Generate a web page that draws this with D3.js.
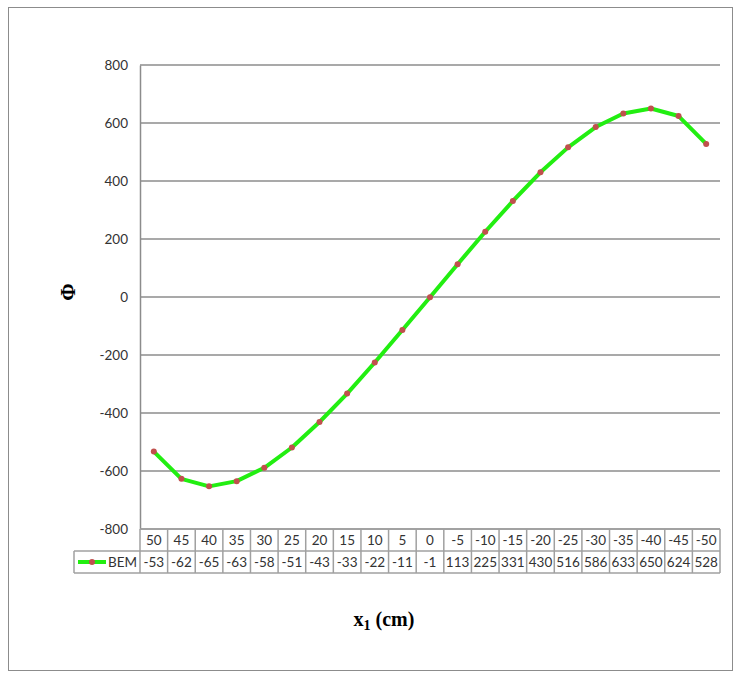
<!DOCTYPE html>
<html><head><meta charset="utf-8">
<script src="https://cdn.jsdelivr.net/npm/d3@7"></script>
<style>body{margin:0;background:#fff}svg{display:block}</style>
</head><body>
<svg id="chart" width="738" height="678"></svg>
<script>
const categories = ["50","45","40","35","30","25","20","15","10","5","0","-5","-10","-15","-20","-25","-30","-35","-40","-45","-50"];
const bemValues = [-533,-627,-653,-635,-589,-519,-431,-333,-226,-114,-1,113,225,331,430,516,586,633,650,624,528];
const tableLabels = ["-53","-62","-65","-63","-58","-51","-43","-33","-22","-11","-1","113","225","331","430","516","586","633","650","624","528"];
const yTicks = [-800,-600,-400,-200,0,200,400,600,800];
const seriesName = "BEM";

(function(){
const svg = d3.select("#chart");
const font = "Lato, 'Noto Sans', sans-serif";
const fs = 13.5;
const gridCol = "#8c8c8c", tableCol = "#a0a0a0";

svg.append("rect").attr("x",8.5).attr("y",7.5).attr("width",724).attr("height",663)
  .attr("fill","#fff").attr("stroke","#8c8c8c").attr("stroke-width",1);

const pLeft = 140, pRight = 720, pTop = 65, pBottom = 529;
const x = d3.scaleBand().domain(categories).range([pLeft,pRight]);
const y = d3.scaleLinear().domain([-800,800]).range([pBottom,pTop]);

svg.append("g").selectAll("line").data(yTicks).join("line")
  .attr("x1",pLeft).attr("x2",pRight).attr("y1",d=>y(d)).attr("y2",d=>y(d))
  .attr("stroke",gridCol).attr("stroke-width",1.5);

const yAxis = d3.axisLeft(y).tickValues(yTicks).tickSize(0).tickPadding(12).tickFormat(d=>String(d));
const gy = svg.append("g").attr("transform",`translate(${pLeft},0)`).call(yAxis);
gy.select(".domain").attr("stroke",gridCol).attr("stroke-width",1.5);
gy.selectAll("text").attr("font-family",font).attr("font-size",fs).attr("fill","#333");

const rowH = 22;
const r1 = pBottom, r2 = pBottom + rowH, r3 = pBottom + 2*rowH;
const tg = svg.append("g");
const hl = (x1,x2,yy)=>tg.append("line").attr("x1",x1).attr("x2",x2).attr("y1",yy).attr("y2",yy).attr("stroke",tableCol).attr("stroke-width",1.5);
hl(pLeft,pRight,r1); hl(74,pRight,r2); hl(74,pRight,r3);
tg.append("line").attr("x1",74).attr("x2",74).attr("y1",r2).attr("y2",r3).attr("stroke",tableCol).attr("stroke-width",1.5);
tg.selectAll("line.v").data(categories).join("line").attr("class","v")
  .attr("x1",d=>x(d)+x.bandwidth()).attr("x2",d=>x(d)+x.bandwidth())
  .attr("y1",r1).attr("y2",r3).attr("stroke",tableCol).attr("stroke-width",1.5);
tg.append("line").attr("x1",pLeft).attr("x2",pLeft).attr("y1",r1).attr("y2",r3).attr("stroke",tableCol).attr("stroke-width",1.5);

tg.selectAll("text.cat").data(categories).join("text").attr("class","cat")
  .attr("x",d=>x(d)+x.bandwidth()/2).attr("y",r1+rowH/2+5)
  .attr("text-anchor","middle").attr("font-family",font).attr("font-size",fs).attr("fill","#333").text(d=>d);
tg.selectAll("text.val").data(tableLabels).join("text").attr("class","val")
  .attr("x",(d,i)=>x(categories[i])+x.bandwidth()/2).attr("y",r2+rowH/2+5)
  .attr("text-anchor","middle").attr("font-family",font).attr("font-size",fs).attr("fill","#333").text(d=>d);

const ly = r2 + rowH/2;
tg.append("line").attr("x1",78).attr("x2",106).attr("y1",ly).attr("y2",ly).attr("stroke","#22ee11").attr("stroke-width",4);
tg.append("circle").attr("cx",92).attr("cy",ly).attr("r",3).attr("fill","#c0504d");
tg.append("text").attr("x",108).attr("y",ly+5).attr("font-family",font).attr("font-size",fs).attr("fill","#333").text(seriesName);

const line = d3.line().x((d,i)=>x(categories[i])+x.bandwidth()/2).y(d=>y(d));
svg.append("path").datum(bemValues).attr("d",line).attr("fill","none")
  .attr("stroke","#22ee11").attr("stroke-width",4).attr("stroke-linejoin","round");
svg.append("g").selectAll("circle").data(bemValues).join("circle")
  .attr("cx",(d,i)=>x(categories[i])+x.bandwidth()/2).attr("cy",d=>y(d)).attr("r",3)
  .attr("fill","#c0504d");

svg.append("text").attr("transform","translate(75,292) rotate(-90)").attr("text-anchor","middle")
  .attr("font-family","'Liberation Serif', 'Times New Roman', serif").attr("font-weight","bold").attr("font-size",21).text("Φ");
const xt = svg.append("text").attr("x",384).attr("y",626).attr("text-anchor","middle")
  .attr("font-family","'Liberation Serif', 'Times New Roman', serif").attr("font-weight","bold").attr("font-size",20);
xt.append("tspan").text("x");
xt.append("tspan").attr("font-size",14).attr("dy",4).text("1");
xt.append("tspan").attr("dy",-4).text(" (cm)");
})();
</script>
</body></html>
